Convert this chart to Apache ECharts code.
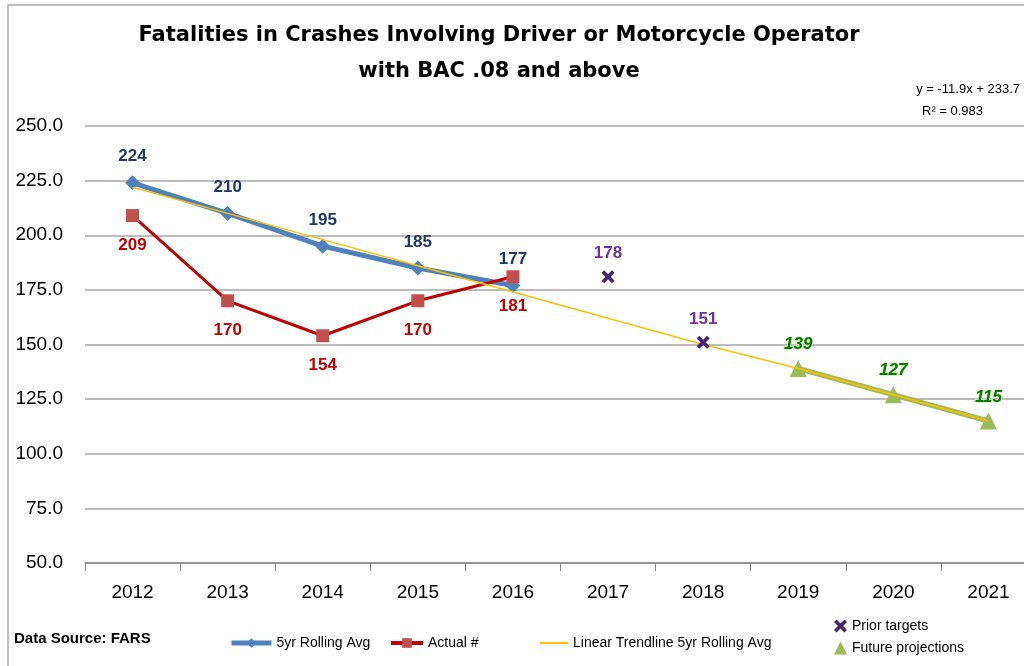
<!DOCTYPE html>
<html>
<head>
<meta charset="utf-8">
<script src="https://cdn.jsdelivr.net/npm/echarts@6/dist/echarts.min.js"></script>
<style>
  html, body { margin: 0; padding: 0; background: #fff; }
  #chart { width: 1024px; height: 666px; }
</style>
</head>
<body>
<div id="chart"></div>
<script>
// Chart data
var years = ['2012', '2013', '2014', '2015', '2016', '2017', '2018', '2019', '2020', '2021'];
var rollingAvg = [224, 210, 195, 185, 177, null, null, null, null, null];
var actual = [209, 170, 154, 170, 181, null, null, null, null, null];
var trendline = [222, 210, 198, 186, 174, 162, 150, 139, 127, 115];
var priorTargets = [null, null, null, null, null, 181, 151, null, null, null];
var priorLabels = [null, null, null, null, null, '178', '151', null, null, null];
var projections = [null, null, null, null, null, null, null, 139, 127, 115];
var yTicks = { min: 50, max: 250, interval: 25 };

var font = '"Liberation Sans", Arial, sans-serif';
var xMark = 'path://M2,0 L5,3 L8,0 L10,2 L7,5 L10,8 L8,10 L5,7 L2,10 L0,8 L3,5 L0,2 Z';

var myChart = echarts.init(document.getElementById('chart'));

var chartOptions = {
  animation: false,
  textStyle: { fontFamily: font },
  title: {
    text: 'Fatalities in Crashes Involving Driver or Motorcycle Operator\nwith BAC .08 and above',
    left: 494,
    textAlign: 'center',
    top: 13,
    textStyle: {
      fontSize: 21, fontWeight: 'bold', color: '#000', lineHeight: 36,
      fontFamily: '"DejaVu Sans", sans-serif'
    }
  },
  graphic: [
    // outer chart border
    { type: 'rect', shape: { x: 8, y: 5, width: 1200, height: 1000 }, style: { fill: 'none', stroke: '#ababab', lineWidth: 1.5 } },
    { type: 'text', left: 14, top: 631, style: { text: 'Data Source: FARS', font: 'bold 15px ' + font, fill: '#000' } },
    // trendline equation
    { type: 'text', right: 4, top: 83, style: { text: 'y = -11.9x + 233.7', font: '13px ' + font, fill: '#000' } },
    { type: 'text', left: 922, top: 105, style: { text: 'R² = 0.983', font: '13px ' + font, fill: '#000' } }
  ],
  legend: [
    {
      data: ['5yr Rolling Avg'], left: 224, top: 631, itemWidth: 40, itemHeight: 12,
      lineStyle: { width: 5 },
      textStyle: { fontSize: 14, color: '#000' }
    },
    {
      data: ['Actual #'], left: 384, top: 631, itemWidth: 32, itemHeight: 12,
      lineStyle: { width: 4 },
      textStyle: { fontSize: 14, color: '#000' }
    },
    {
      data: [{ name: 'Linear Trendline 5yr Rolling Avg', icon: 'rect' }], left: 535, top: 631,
      itemWidth: 28, itemHeight: 2,
      textStyle: { fontSize: 14, color: '#000' }
    },
    {
      data: [{ name: 'Prior targets', icon: xMark }, { name: 'Future projections', icon: 'triangle' }],
      orient: 'vertical', left: 829, top: 614, itemWidth: 13, itemHeight: 13, itemGap: 8,
      textStyle: { fontSize: 14, color: '#000' }
    }
  ],
  grid: { left: 85, top: 126, width: 951, bottom: 103, outerBoundsMode: 'none', containLabel: false },
  xAxis: {
    type: 'category',
    data: years,
    boundaryGap: true,
    axisLine: { lineStyle: { color: '#888', width: 1.5 } },
    axisTick: { show: true, length: 8, lineStyle: { color: '#888' } },
    axisLabel: { fontSize: 19, color: '#000', margin: 20 }
  },
  yAxis: {
    type: 'value',
    min: yTicks.min,
    max: yTicks.max,
    interval: yTicks.interval,
    axisLine: { show: false },
    axisTick: { show: false },
    splitLine: { lineStyle: { color: '#a6a6a6', width: 1.5 } },
    axisLabel: {
      fontSize: 19, color: '#000', margin: 22,
      formatter: function (v) { return v.toFixed(1); }
    }
  },
  series: [
    {
      name: 'Future projections',
      type: 'line',
      data: projections,
      z: 2,
      symbol: 'triangle',
      symbolSize: 17,
      itemStyle: { color: '#9BBB59' },
      lineStyle: { color: '#9BBB59', width: 5 },
      label: {
        show: true, position: 'top', distance: 7,
        fontSize: 17, fontWeight: 'bold', fontStyle: 'italic', color: '#007A00',
        textBorderColor: '#d9f0b8', textBorderWidth: 1.5
      }
    },
    {
      name: '5yr Rolling Avg',
      type: 'line',
      data: rollingAvg,
      z: 3,
      symbol: 'diamond',
      symbolSize: 15,
      itemStyle: { color: '#4F81BD' },
      lineStyle: { color: '#4F81BD', width: 5 },
      label: {
        show: true, position: 'top', distance: 10,
        fontSize: 17, fontWeight: 'bold', color: '#1F3864'
      }
    },
    {
      name: 'Actual #',
      type: 'line',
      data: actual,
      z: 3,
      symbol: 'rect',
      symbolSize: 13,
      itemStyle: { color: '#C0504D' },
      lineStyle: { color: '#C00000', width: 3 },
      label: {
        show: true, position: 'bottom', distance: 15,
        fontSize: 17, fontWeight: 'bold', color: '#C00000'
      }
    },
    {
      name: 'Linear Trendline 5yr Rolling Avg',
      type: 'line',
      data: trendline,
      z: 4,
      symbol: 'none',
      itemStyle: { color: '#FFC000' },
      lineStyle: { color: '#FFC000', width: 1.5 }
    },
    {
      name: 'Prior targets',
      type: 'scatter',
      data: priorTargets,
      z: 5,
      symbol: xMark,
      symbolSize: 13,
      itemStyle: { color: '#46256F', opacity: 1 },
      label: {
        show: true, position: 'top', distance: 8,
        fontSize: 17, fontWeight: 'bold', color: '#7030A0',
        formatter: function (p) { return priorLabels[p.dataIndex]; }
      }
    }
  ]
};

myChart.setOption(chartOptions);
</script>
</body>
</html>
